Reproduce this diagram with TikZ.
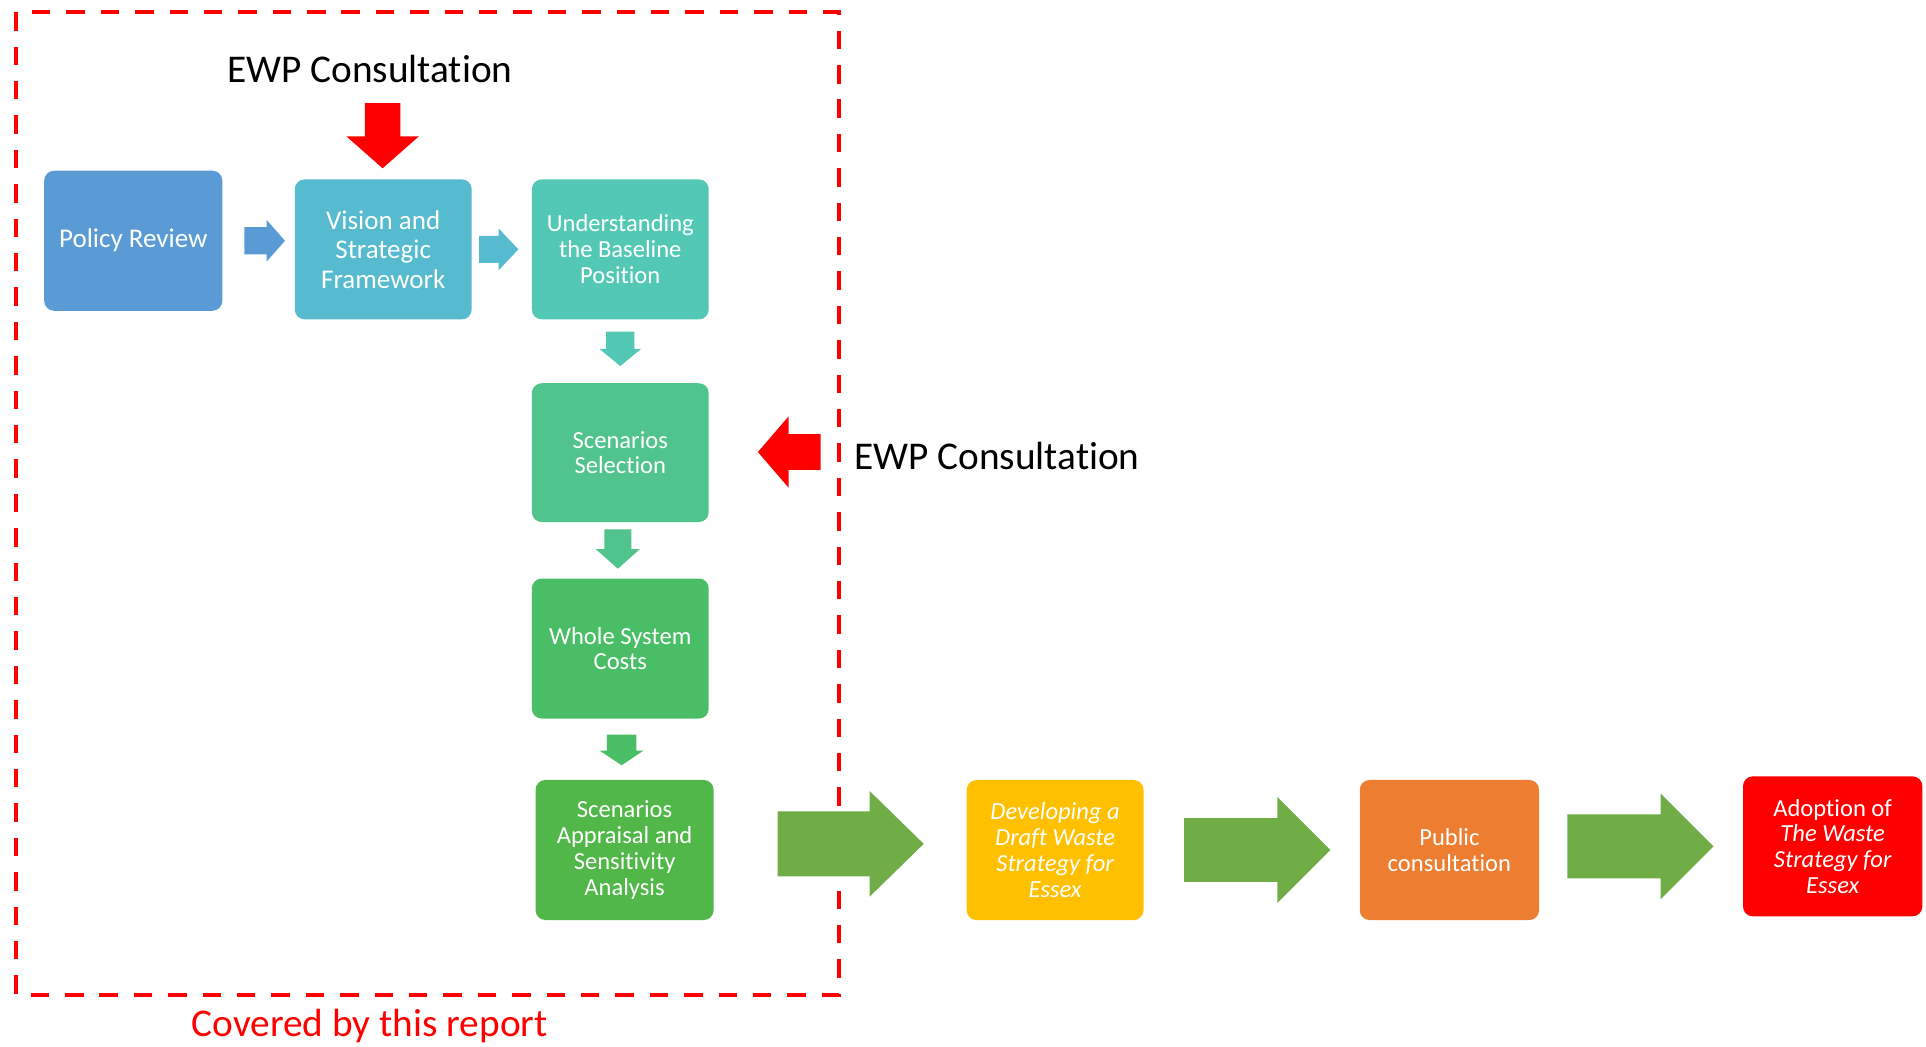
\documentclass[tikz,border=0pt]{standalone}
\usepackage{fontspec}
\setmainfont{Carlito}[Ligatures={NoCommon}]
\definecolor{cPolicy}{HTML}{5B9BD5}
\definecolor{cVision}{HTML}{57BBCF}
\definecolor{cUnder}{HTML}{53C9B5}
\definecolor{cSelect}{HTML}{50C48C}
\definecolor{cWhole}{HTML}{49BE67}
\definecolor{cApprais}{HTML}{50B748}
\definecolor{cBig}{HTML}{70AD47}
\definecolor{cDevelop}{HTML}{FFC000}
\definecolor{cPublic}{HTML}{ED7D31}
\definecolor{cAdopt}{HTML}{FF0000}
\definecolor{cRed}{HTML}{FF0000}
\newcommand\blockR[7]{\fill[#7] (#1,#4-#5) -- (#2,#4-#5) -- (#2,#4-#6) -- (#3,#4) -- (#2,#4+#6) -- (#2,#4+#5) -- (#1,#4+#5) -- cycle;}
\newcommand\blockD[7]{\fill[#7] (#4-#5,#1) -- (#4+#5,#1) -- (#4+#5,#2) -- (#4+#6,#2) -- (#4,#3) -- (#4-#6,#2) -- (#4-#5,#2) -- cycle;}
\tikzset{
  box/.style={rounded corners=4pt, minimum width=72pt, minimum height=57pt, text=white, align=center, inner sep=0pt, font=\fontsize{10}{10.5}\selectfont},
  bigbox/.style={box, font=\fontsize{11}{12}\selectfont},
  bigtext/.style={font=\fontsize{16}{19}\selectfont, inner sep=0pt}
}
\begin{document}
\begin{tikzpicture}[x=0.5pt, y=-0.5pt]
\useasboundingbox (0,0) rectangle (1568,852);
% frame
\draw[cRed, line width=1.5pt, dash pattern=on 7.5pt off 6.5pt] (13,10) rectangle (683,810);
% boxes
\node[bigbox, fill=cPolicy, minimum width=72.5pt] (policy) at (108.5,196) {Policy Review};
\node[bigbox, fill=cVision] (vision) at (312,203) {Vision and\\Strategic\\Framework};
\node[box, fill=cUnder] (under) at (505,203) {Understanding\\the Baseline\\Position};
\node[box, fill=cSelect, minimum height=56.5pt] (select) at (505,368.5) {Scenarios\\Selection};
\node[box, fill=cWhole] (whole) at (505,528) {Whole System\\Costs};
\node[box, fill=cApprais, minimum width=72.5pt] (apprais) at (508.5,692) {Scenarios\\Appraisal and\\Sensitivity\\Analysis};
\node[box, fill=cDevelop] (develop) at (859,692) {\itshape Developing a\\\itshape Draft Waste\\\itshape Strategy for\\\itshape Essex};
\node[box, fill=cPublic, minimum width=73pt] (public) at (1180,692) {Public\\consultation};
\node[box, fill=cAdopt, minimum width=73pt] (adopt) at (1492,689) {Adoption of\\\itshape The Waste\\\itshape Strategy for\\\itshape Essex};
% texts
\node[bigtext] (ewptop) at (301,56) {EWP Consultation};
\node[bigtext, anchor=west] (ewpright) at (695,371) {EWP Consultation};
\node[bigtext, text=cRed] (covered) at (301,835) {Covered by this report};
% arrows
\blockD{84}{111}{137}{311.5}{14.5}{29.5}{cRed}
\blockR{199}{217}{232}{196}{11}{17}{cPolicy}
\blockR{390}{406}{422}{203}{11}{17}{cVision}
\blockD{270}{284}{298}{505}{11.5}{17}{cUnder}
\blockR{668}{642}{617}{368}{14.5}{29}{cRed}
\blockD{431}{447}{463}{503}{11}{18}{cSelect}
\blockD{598}{611}{623}{506}{12}{18}{cWhole}
\blockR{633}{708}{752}{687}{26.5}{43}{cBig}
\blockR{964}{1040}{1083}{692}{26}{43}{cBig}
\blockR{1276}{1352}{1395}{689}{26}{43}{cBig}
\end{tikzpicture}
\end{document}
